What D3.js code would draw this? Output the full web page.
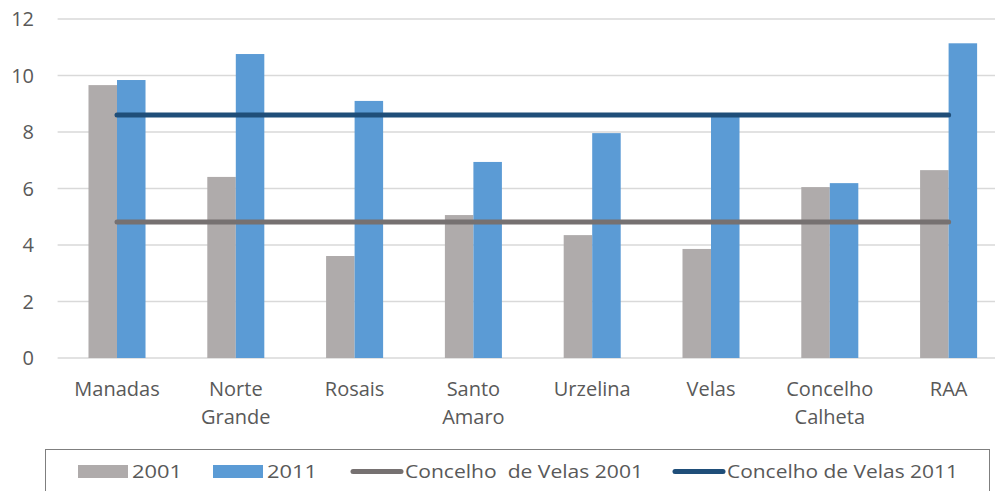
<!DOCTYPE html>
<html>
<head>
<meta charset="utf-8">
<script src="https://d3js.org/d3.v7.min.js"></script>
<style>
  body { margin: 0; padding: 0; background: #fff; }
  text { font-family: "Open Sans", sans-serif; fill: #595959; white-space: pre; }
</style>
</head>
<body>
<svg id="chart" width="995" height="491"></svg>
<script>
// data
const categories = ["Manadas", "Norte Grande", "Rosais", "Santo Amaro", "Urzelina", "Velas", "Concelho Calheta", "RAA"];
const catLabels = [["Manadas"], ["Norte", "Grande"], ["Rosais"], ["Santo", "Amaro"], ["Urzelina"], ["Velas"], ["Concelho", "Calheta"], ["RAA"]];
const series = ["2001", "2011"];
const values2001 = [9.66, 6.41, 3.61, 5.06, 4.35, 3.86, 6.05, 6.65];
const values2011 = [9.84, 10.76, 9.10, 6.94, 7.96, 8.62, 6.19, 11.14];
const velas2001 = 4.81;
const velas2011 = 8.60;
const yTicks = [0, 2, 4, 6, 8, 10, 12];
const legendLabels = ["2001", "2011", "Concelho  de Velas 2001", "Concelho de Velas 2011"];

const colors = { "2001": "#AFABAB", "2011": "#5B9BD5", line2001: "#767171", line2011: "#1F4E79" };

const svg = d3.select("#chart");

const x0 = d3.scaleBand().domain(categories).range([57.6, 1008]).paddingInner(0.52).paddingOuter(0.26);
const x1 = d3.scaleBand().domain(series).range([0, x0.bandwidth()]);
const y = d3.scaleLinear().domain([0, 12]).range([358, 19]);

// gridlines
svg.append("g").selectAll("line").data(yTicks).join("line")
    .attr("x1", 57.6).attr("x2", 995)
    .attr("y1", d => y(d)).attr("y2", d => y(d))
    .attr("stroke", "#D9D9D9").attr("stroke-width", 1.5);

// y labels
svg.append("g").selectAll("text").data(yTicks).join("text")
    .attr("x", 34).attr("y", d => y(d))
    .attr("text-anchor", "end").attr("dy", "0.36em")
    .style("font-size", "20px")
    .text(d => d);

// bars
const rows = categories.map((c, i) => ({ cat: c, "2001": values2001[i], "2011": values2011[i] }));
const groups = svg.append("g").selectAll("g").data(rows).join("g")
    .attr("transform", d => "translate(" + x0(d.cat) + ",0)");
groups.selectAll("rect").data(d => series.map(s => ({ s: s, v: d[s] }))).join("rect")
    .attr("x", d => x1(d.s))
    .attr("width", x1.bandwidth())
    .attr("y", d => y(d.v))
    .attr("height", d => y(0) - y(d.v))
    .attr("fill", d => colors[d.s]);

// reference lines
const line = d3.line().x(d => x0(d.cat) + x0.bandwidth() / 2).y(d => y(d.v));
const ends = [categories[0], categories[categories.length - 1]];
[[velas2001, colors.line2001], [velas2011, colors.line2011]].forEach(([v, col]) => {
    svg.append("path")
        .attr("d", line(ends.map(c => ({ cat: c, v: v }))))
        .attr("fill", "none").attr("stroke", col)
        .attr("stroke-width", 5).attr("stroke-linecap", "round");
});

// category labels
const lab = svg.append("g").selectAll("text").data(categories).join("text")
    .attr("text-anchor", "middle")
    .attr("transform", d => "translate(" + (x0(d) + x0.bandwidth() / 2) + ",396)")
    .style("font-size", "20px");
lab.selectAll("tspan").data((d, i) => catLabels[i]).join("tspan")
    .attr("x", 0).attr("dy", (d, i) => i === 0 ? 0 : 28)
    .text(d => d);

// legend
svg.append("rect").attr("x", 45.5).attr("y", 449.5).attr("width", 944).attr("height", 60)
    .attr("fill", "none").attr("stroke", "#7F7F7F").attr("stroke-width", 1);

const legendX = [78, 213, 350, 672];
const leg = svg.append("g").selectAll("g").data(legendLabels).join("g")
    .attr("transform", (d, i) => "translate(" + legendX[i] + ",0)");
leg.each(function (d, i) {
    const g = d3.select(this);
    if (i < 2) {
        g.append("rect").attr("x", 0).attr("y", 465).attr("width", 50).attr("height", 13)
            .attr("fill", colors[series[i]]);
    } else {
        g.append("line").attr("x1", 3).attr("x2", 51).attr("y1", 471.5).attr("y2", 471.5)
            .attr("stroke", i === 2 ? colors.line2001 : colors.line2011)
            .attr("stroke-width", 5).attr("stroke-linecap", "round");
    }
    g.append("text").attr("x", i < 2 ? 54 : 55).attr("y", 471.5).attr("dy", "0.36em")
        .style("font-size", "19px")
        .attr("textLength", [50, 50, 238, 231][i]).attr("lengthAdjust", "spacingAndGlyphs")
        .text(d);
});
</script>
</body>
</html>
